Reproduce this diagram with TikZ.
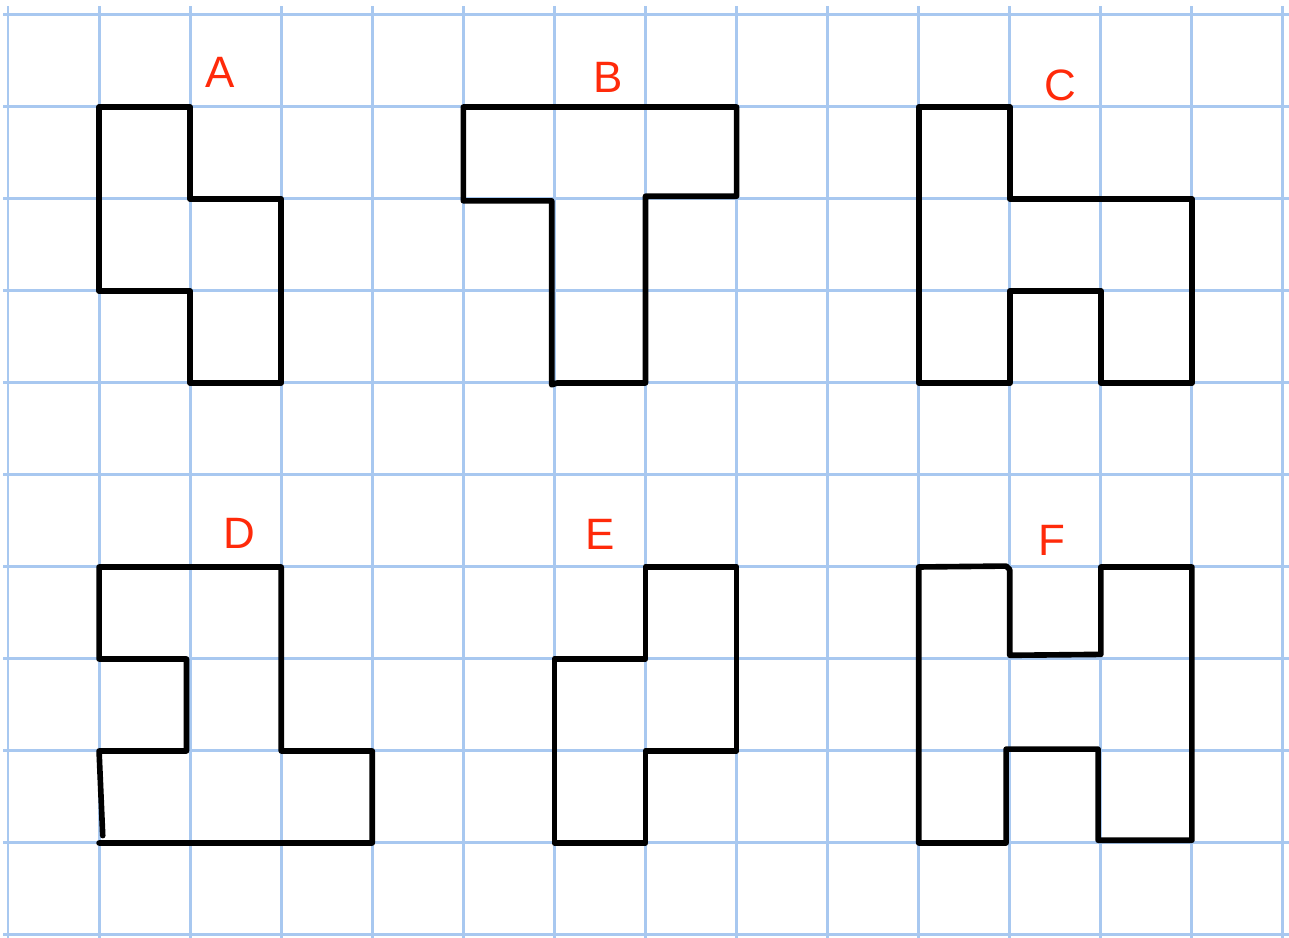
\documentclass[tikz,border=0pt]{standalone}
\usepackage{fontspec}
\setmainfont{Liberation Sans}
\usetikzlibrary{positioning}
\definecolor{gridBlue}{HTML}{A8C8F0}
\definecolor{labelRed}{HTML}{FF2A0A}

\begin{document}
\begin{tikzpicture}[
  gridline/.style={gridBlue, line width=0.85pt},
  outline/.style={black, line width=1.6pt, line join=round, line cap=round},
  shapelabel/.style={labelRed, inner sep=0pt, font=\fontsize{12.5}{14}\selectfont}]
\useasboundingbox (0,0) rectangle (12.89,9.38);
\clip (0,0) rectangle (12.89,9.38);
\fill[white] (0,0) rectangle (12.89,9.38);
\begin{scope}[x=0.9107cm, y=0.92cm, shift={(0.08cm,0.03cm)}]
  \foreach \i in {0,...,14} \draw[gridline] (\i,-0.2) -- (\i,10.1);
  \foreach \j in {0,...,10} \draw[gridline] (-0.05,\j) -- (14.2,\j);
  \draw[outline] (1,9) -- (2,9) -- (2,8) -- (3,8) -- (3,6) -- (2,6) -- (2,7) -- (1,7) -- cycle;
  \draw[outline] (5,9) -- (8,9) -- (8,8.03) -- (7,8.03) -- (7,6) -- (6.03,6) -- (5.97,5.98) -- (5.97,7.98) -- (5,7.98) -- cycle;
  \draw[outline] (10,9) -- (11,9) -- (11,8) -- (13,8) -- (13,6) -- (12,6) -- (12,7) -- (11,7) -- (11,6) -- (10,6) -- cycle;
  \draw[outline] (1.04,1.08) -- (1,2) -- (1.96,2) -- (1.96,3) -- (1,3) -- (1,4) -- (3,4) -- (3,2) -- (4,2) -- (4,1) -- (1,1);
  \draw[outline] (7,4) -- (8,4) -- (8,2) -- (7,2) -- (7,1) -- (6,1) -- (6,3) -- (7,3) -- cycle;
  \draw[outline] (10,4) -- (10.96,4.01) -- (11,3.97) -- (11,3.04) -- (12,3.05) -- (12,4) -- (13,4) -- (13,1.03) -- (11.97,1.03) -- (11.97,2.02) -- (10.96,2.02) -- (10.96,1) -- (10,1) -- cycle;
  \node[shapelabel] (labA) at (2.33,9.38) {A};
  \node[shapelabel] (labB) at (6.59,9.32) {B};
  \node[shapelabel] (labC) at (11.55,9.24) {C};
  \node[shapelabel] (labD) at (2.54,4.36) {D};
  \node[shapelabel] (labE) at (6.50,4.35) {E};
  \node[shapelabel] (labF) at (11.46,4.29) {F};
\end{scope}
\end{tikzpicture}
\end{document}
